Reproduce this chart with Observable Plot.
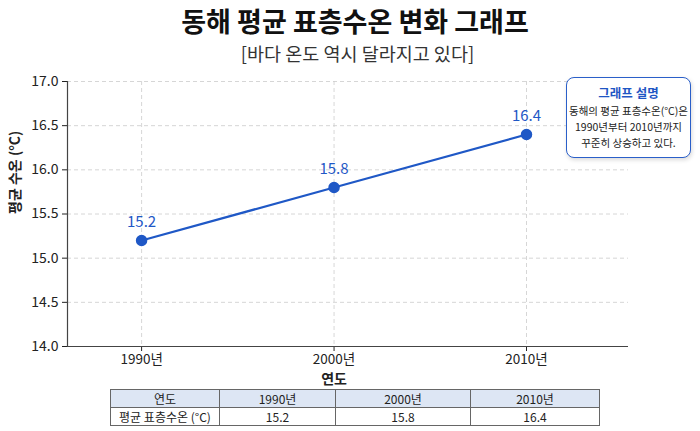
<!DOCTYPE html>
<html><head><meta charset="utf-8">
<script src="https://cdn.jsdelivr.net/npm/d3@7"></script>
<script src="https://cdn.jsdelivr.net/npm/@observablehq/plot@0.6"></script>
<style>
body{margin:0;background:#fff;font-family:"Noto Sans CJK KR","Noto Sans",sans-serif;}
#wrap{position:relative;width:700px;height:431px;overflow:hidden;}
#title{position:absolute;top:1px;left:0;width:710px;text-align:center;font-size:27px;font-weight:bold;color:#111;}
#sub{position:absolute;top:40px;left:0;width:715px;text-align:center;font-size:18.5px;color:#333;}
#chart{position:absolute;top:70px;left:0;}
#note{position:absolute;left:566px;top:77px;width:123px;height:79px;border:1.5px solid #2a5fc9;border-radius:8px;background:#fff;box-shadow:1px 2px 4px rgba(0,0,0,0.15);text-align:center;font-size:10.5px;color:#222;line-height:16px;}
#note .h{color:#1f56c4;font-weight:bold;font-size:12.5px;margin-top:7px;margin-bottom:2px;}
table{position:absolute;left:110px;top:389px;border-collapse:collapse;font-size:12px;color:#222;}
td{border:1px solid #666;text-align:center;height:17px;padding:0;line-height:16px;}
tr.hd td{background:#dde6f4;}
</style></head>
<body><div id="wrap">
<div id="title">동해 평균 표층수온 변화 그래프</div>
<div id="sub">[바다 온도 역시 달라지고 있다]</div>
<div id="chart"></div>
<div id="note"></div>
<table id="tbl"></table>
</div>
<script>
const years = [1990, 2000, 2010];
const yearLabels = ["1990년", "2000년", "2010년"];
const temps = [15.2, 15.8, 16.4];
const yTicks = [14.0, 14.5, 15.0, 15.5, 16.0, 16.5, 17.0];
const titleText = "동해 평균 표층수온 변화 그래프";
const yLabel = "평균 수온 (°C)";
const xLabel = "연도";
const noteTitle = "그래프 설명";
const noteLines = ["동해의 평균 표층수온(°C)은", "1990년부터 2010년까지", "꾸준히 상승하고 있다."];
const tableHead = "연도";
const tableRowLabel = "평균 표층수온 (°C)";

const data = years.map((y, i) => ({year: y, temp: temps[i], label: yearLabels[i]}));
const blue = "#1f58c6";
const font = '"Noto Sans CJK KR","Noto Sans",sans-serif';

const plot = Plot.plot({
  width: 700, height: 316,
  marginLeft: 67, marginRight: 72, marginTop: 11, marginBottom: 40,
  style: {fontFamily: font, background: "transparent"},
  x: {domain: [1986.15, 2015.3]},
  y: {domain: [14, 17]},
  marks: [
    Plot.gridY(yTicks, {stroke: "#ccc", strokeOpacity: 1, strokeDasharray: "4,3", strokeWidth: 0.8}),
    Plot.gridX(years, {stroke: "#ccc", strokeOpacity: 1, strokeDasharray: "4,3", strokeWidth: 0.8}),
    Plot.axisY(yTicks, {tickFormat: d => d.toFixed(1), fontSize: 14, tickSize: 5, tickPadding: 4, color: "#222", label: null}),
    Plot.axisX(years, {tickFormat: d => yearLabels[years.indexOf(d)], fontSize: 13.5, tickSize: 5, tickPadding: 3, color: "#222", label: null}),
    Plot.ruleY([14], {stroke: "#444", strokeWidth: 1.2}),
    Plot.ruleX([1986.15], {stroke: "#444", strokeWidth: 1.2}),
    Plot.text([yLabel], {frameAnchor: "left", rotate: -90, dx: -52, fontSize: 14, fontWeight: 600, fill: "#222"}),
    Plot.text([xLabel], {x: years[1], frameAnchor: "bottom", dy: 37, fontSize: 14, fontWeight: 600, fill: "#222"}),
    Plot.line(data, {x: "year", y: "temp", stroke: blue, strokeWidth: 2.2}),
    Plot.dot(data, {x: "year", y: "temp", r: 5, fill: blue, stroke: blue}),
    Plot.text(data, {x: "year", y: "temp", text: d => d.temp.toFixed(1), dy: -18, fontSize: 15, fill: blue})
  ]
});
document.getElementById("chart").appendChild(plot);

document.getElementById("title").textContent = titleText;
document.getElementById("note").innerHTML = `<div class="h">${noteTitle}</div>` + noteLines.map(l => `<div>${l}</div>`).join("");

const widths = [108, 115, 134, 128];
const tbl = document.getElementById("tbl");
tbl.innerHTML =
  `<tr class="hd"><td style="width:${widths[0]}px">${tableHead}</td>` + yearLabels.map((l, i) => `<td style="width:${widths[i+1]}px">${l}</td>`).join("") + `</tr>` +
  `<tr><td>${tableRowLabel}</td>` + temps.map(t => `<td>${t.toFixed(1)}</td>`).join("") + `</tr>`;
</script>
</body></html>
